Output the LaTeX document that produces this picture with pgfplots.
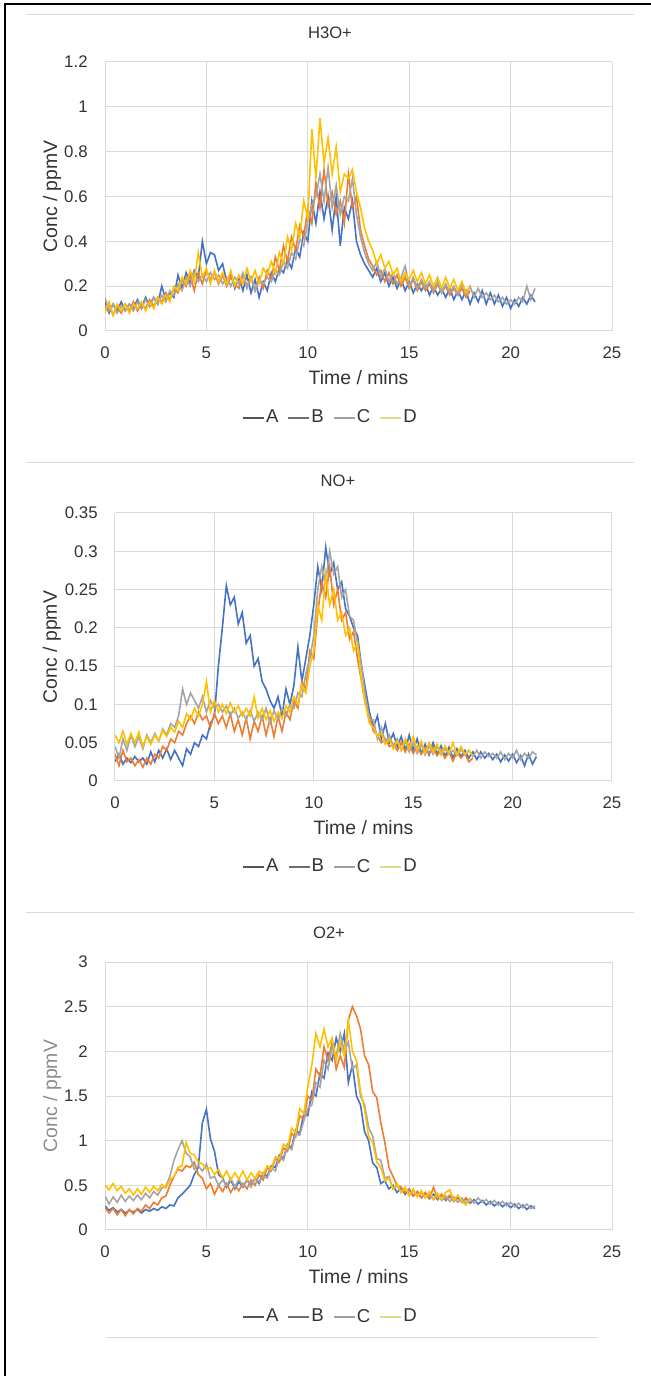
\documentclass[border=0pt]{standalone}
\usepackage{fontspec}
\setmainfont{Liberation Sans}
\usepackage{pgfplots}
\usepackage{pgfplotstable}
\pgfplotsset{compat=1.18}

\definecolor{serA}{HTML}{4472C4}
\definecolor{serB}{HTML}{ED7D31}
\definecolor{serC}{HTML}{A5A5A5}
\definecolor{serD}{HTML}{FFC000}
\definecolor{legA}{HTML}{555555}
\definecolor{legB}{HTML}{6E6E6E}
\definecolor{legC}{HTML}{A0A0A0}
\definecolor{legD}{HTML}{DCDC8C}
\definecolor{gridc}{HTML}{D9D9D9}
\definecolor{txt}{HTML}{333333}

% H3O+
\pgfplotstableread{
t A B C D
0.0 0.13 0.10 0.15 0.08
0.2 0.08 0.12 0.09 0.13
0.4 0.12 0.07 0.12 0.07
0.6 0.09 0.11 0.08 0.12
0.8 0.13 0.08 0.11 0.09
1.0 0.09 0.12 0.09 0.12
1.2 0.12 0.09 0.12 0.08
1.4 0.10 0.13 0.09 0.12
1.6 0.14 0.09 0.13 0.10
1.8 0.10 0.12 0.10 0.13
2.0 0.15 0.10 0.14 0.09
2.2 0.11 0.14 0.11 0.13
2.4 0.15 0.11 0.15 0.10
2.6 0.12 0.15 0.12 0.15
2.8 0.20 0.13 0.16 0.12
3.0 0.14 0.17 0.13 0.16
3.2 0.17 0.14 0.18 0.13
3.4 0.15 0.19 0.16 0.20
3.6 0.25 0.17 0.21 0.18
3.8 0.19 0.23 0.18 0.24
4.0 0.26 0.20 0.24 0.21
4.2 0.21 0.25 0.20 0.27
4.4 0.27 0.18 0.26 0.22
4.6 0.24 0.26 0.22 0.35
4.8 0.40 0.21 0.25 0.24
5.0 0.30 0.27 0.22 0.28
5.2 0.35 0.23 0.26 0.21
5.4 0.34 0.26 0.23 0.27
5.6 0.27 0.21 0.25 0.22
5.8 0.30 0.25 0.21 0.26
6.0 0.22 0.20 0.24 0.21
6.2 0.26 0.24 0.20 0.27
6.4 0.19 0.21 0.24 0.20
6.6 0.24 0.19 0.21 0.25
6.8 0.18 0.25 0.26 0.21
7.0 0.25 0.20 0.19 0.28
7.2 0.17 0.24 0.24 0.22
7.4 0.23 0.18 0.18 0.27
7.6 0.15 0.24 0.23 0.21
7.8 0.22 0.19 0.21 0.28
8.0 0.18 0.27 0.24 0.25
8.2 0.26 0.23 0.22 0.31
8.4 0.22 0.33 0.27 0.26
8.6 0.28 0.27 0.25 0.35
8.8 0.26 0.38 0.31 0.30
9.0 0.32 0.31 0.28 0.42
9.2 0.28 0.42 0.35 0.36
9.4 0.37 0.36 0.32 0.48
9.6 0.33 0.47 0.41 0.42
9.8 0.44 0.42 0.38 0.58
10.0 0.40 0.55 0.49 0.50
10.2 0.58 0.48 0.56 0.90
10.4 0.48 0.66 0.60 0.68
10.6 0.62 0.55 0.70 0.95
10.8 0.50 0.72 0.58 0.75
11.0 0.60 0.56 0.73 0.86
11.2 0.45 0.62 0.55 0.70
11.4 0.60 0.52 0.65 0.82
11.6 0.38 0.58 0.52 0.62
11.8 0.55 0.48 0.60 0.70
12.0 0.50 0.70 0.58 0.68
12.2 0.58 0.55 0.68 0.72
12.4 0.40 0.60 0.52 0.62
12.6 0.34 0.45 0.42 0.55
12.8 0.30 0.38 0.35 0.46
13.0 0.27 0.32 0.30 0.40
13.2 0.24 0.29 0.27 0.36
13.4 0.28 0.25 0.31 0.30
13.6 0.22 0.27 0.24 0.34
13.8 0.26 0.22 0.28 0.28
14.0 0.20 0.26 0.22 0.31
14.2 0.24 0.21 0.26 0.25
14.4 0.19 0.25 0.21 0.28
14.6 0.23 0.20 0.24 0.22
14.8 0.18 0.24 0.29 0.26
15.0 0.22 0.19 0.20 0.23
15.2 0.17 0.23 0.24 0.27
15.4 0.21 0.18 0.19 0.22
15.6 0.18 0.22 0.23 0.26
15.8 0.21 0.18 0.19 0.21
16.0 0.16 0.21 0.22 0.25
16.2 0.20 0.17 0.18 0.20
16.4 0.16 0.21 0.22 0.24
16.6 0.19 0.17 0.17 0.19
16.8 0.15 0.20 0.21 0.24
17.0 0.19 0.16 0.17 0.19
17.2 0.14 0.19 0.20 0.23
17.4 0.18 0.16 0.16 0.18
17.6 0.14 0.19 0.21 0.22
17.8 0.18 0.15 0.16 0.17
18.0 0.12 0.18 0.20 0.20
18.2 0.17 nan 0.15 nan
18.4 0.13 nan 0.19 nan
18.6 0.18 nan 0.15 nan
18.8 0.12 nan 0.17 nan
19.0 0.17 nan 0.14 nan
19.2 0.12 nan 0.16 nan
19.4 0.16 nan 0.13 nan
19.6 0.11 nan 0.15 nan
19.8 0.15 nan 0.12 nan
20.0 0.10 nan 0.14 nan
20.2 0.14 nan 0.12 nan
20.4 0.11 nan 0.15 nan
20.6 0.15 nan 0.13 nan
20.8 0.12 nan 0.20 nan
21.0 0.16 nan 0.14 nan
21.2 0.13 nan 0.19 nan
}\tabH

% NO+
\pgfplotstableread{
t A B C D
0.0 0.025 0.035 0.045 0.060
0.2 0.035 0.020 0.030 0.050
0.4 0.022 0.040 0.055 0.065
0.6 0.030 0.025 0.040 0.048
0.8 0.024 0.030 0.060 0.062
1.0 0.032 0.020 0.045 0.050
1.2 0.025 0.028 0.058 0.064
1.4 0.030 0.018 0.042 0.045
1.6 0.022 0.030 0.060 0.058
1.8 0.038 0.022 0.050 0.048
2.0 0.025 0.035 0.062 0.060
2.2 0.040 0.030 0.052 0.052
2.4 0.030 0.045 0.068 0.066
2.6 0.042 0.040 0.060 0.058
2.8 0.028 0.055 0.075 0.070
3.0 0.040 0.050 0.070 0.064
3.2 0.030 0.065 0.085 0.078
3.4 0.020 0.060 0.120 0.070
3.6 0.042 0.075 0.100 0.088
3.8 0.035 0.085 0.115 0.080
4.0 0.050 0.075 0.105 0.095
4.2 0.045 0.090 0.095 0.085
4.4 0.060 0.080 0.110 0.100
4.6 0.055 0.085 0.090 0.130
4.8 0.075 0.070 0.105 0.090
5.0 0.085 0.088 0.095 0.105
5.2 0.150 0.075 0.100 0.090
5.4 0.200 0.085 0.090 0.100
5.6 0.255 0.070 0.098 0.088
5.8 0.230 0.088 0.085 0.102
6.0 0.240 0.065 0.095 0.090
6.2 0.205 0.080 0.082 0.098
6.4 0.220 0.060 0.090 0.085
6.6 0.180 0.082 0.080 0.095
6.8 0.190 0.055 0.092 0.085
7.0 0.150 0.078 0.078 0.110
7.2 0.160 0.065 0.090 0.082
7.4 0.130 0.085 0.080 0.095
7.6 0.120 0.060 0.095 0.080
7.8 0.105 0.082 0.075 0.092
8.0 0.095 0.058 0.092 0.078
8.2 0.110 0.085 0.080 0.090
8.4 0.085 0.065 0.095 0.082
8.6 0.120 0.090 0.085 0.098
8.8 0.100 0.080 0.100 0.090
9.0 0.125 0.105 0.095 0.110
9.2 0.175 0.095 0.115 0.100
9.4 0.130 0.130 0.110 0.125
9.6 0.160 0.120 0.140 0.115
9.8 0.190 0.170 0.160 0.150
10.0 0.230 0.160 0.190 0.170
10.2 0.280 0.220 0.250 0.230
10.4 0.250 0.260 0.280 0.210
10.6 0.305 0.240 0.260 0.270
10.8 0.270 0.280 0.300 0.230
11.0 0.285 0.230 0.270 0.250
11.2 0.250 0.250 0.280 0.210
11.4 0.260 0.210 0.240 0.220
11.6 0.225 0.220 0.250 0.190
11.8 0.215 0.185 0.215 0.200
12.0 0.200 0.195 0.210 0.170
12.2 0.190 0.160 0.180 0.180
12.4 0.150 0.130 0.150 0.130
12.6 0.120 0.100 0.110 0.100
12.8 0.090 0.085 0.080 0.075
13.0 0.070 0.065 0.080 0.070
13.2 0.085 0.060 0.055 0.058
13.4 0.055 0.050 0.070 0.062
13.6 0.075 0.055 0.050 0.048
13.8 0.050 0.045 0.060 0.055
14.0 0.062 0.048 0.045 0.042
14.2 0.045 0.040 0.055 0.052
14.4 0.058 0.050 0.040 0.040
14.6 0.040 0.038 0.052 0.055
14.8 0.060 0.048 0.038 0.042
15.0 0.040 0.036 0.050 0.058
15.2 0.055 0.045 0.036 0.040
15.4 0.036 0.035 0.048 0.052
15.6 0.048 0.042 0.034 0.036
15.8 0.034 0.036 0.046 0.050
16.0 0.050 0.044 0.035 0.038
16.2 0.035 0.033 0.045 0.048
16.4 0.046 0.040 0.034 0.035
16.6 0.032 0.030 0.042 0.046
16.8 0.044 0.038 0.035 0.036
17.0 0.030 0.026 0.040 0.050
17.2 0.042 0.038 0.033 0.034
17.4 0.032 0.030 0.041 0.045
17.6 0.040 0.036 0.034 0.035
17.8 0.030 0.025 0.040 0.040
18.0 0.038 0.030 0.032 0.033
18.2 0.028 nan 0.040 nan
18.4 0.038 nan 0.030 nan
18.6 0.030 nan 0.038 nan
18.8 0.036 nan 0.032 nan
19.0 0.028 nan 0.036 nan
19.2 0.035 nan 0.030 nan
19.4 0.025 nan 0.038 nan
19.6 0.034 nan 0.028 nan
19.8 0.026 nan 0.036 nan
20.0 0.035 nan 0.030 nan
20.2 0.024 nan 0.040 nan
20.4 0.033 nan 0.028 nan
20.6 0.020 nan 0.036 nan
20.8 0.035 nan 0.030 nan
21.0 0.022 nan 0.038 nan
21.2 0.032 nan 0.034 nan
}\tabN

% O2+
\pgfplotstableread{
t A B C D
0.0 0.27 0.25 0.38 0.50
0.2 0.22 0.19 0.29 0.45
0.4 0.25 0.24 0.37 0.52
0.6 0.20 0.17 0.31 0.44
0.8 0.23 0.23 0.39 0.49
1.0 0.19 0.16 0.32 0.41
1.2 0.22 0.23 0.38 0.46
1.4 0.20 0.18 0.33 0.39
1.6 0.23 0.24 0.39 0.46
1.8 0.19 0.21 0.34 0.40
2.0 0.23 0.28 0.41 0.48
2.2 0.21 0.24 0.36 0.42
2.4 0.24 0.31 0.43 0.49
2.6 0.22 0.28 0.39 0.44
2.8 0.26 0.36 0.47 0.51
3.0 0.24 0.38 0.49 0.47
3.2 0.28 0.50 0.60 0.56
3.4 0.27 0.60 0.78 0.60
3.6 0.36 0.68 0.90 0.70
3.8 0.40 0.66 1.00 0.72
4.0 0.45 0.72 0.86 0.98
4.2 0.50 0.70 0.82 0.86
4.4 0.62 0.76 0.68 0.84
4.6 0.70 0.62 0.72 0.76
4.8 1.20 0.58 0.66 0.74
5.0 1.35 0.46 0.74 0.68
5.2 1.02 0.52 0.58 0.70
5.4 0.88 0.40 0.60 0.62
5.6 0.62 0.50 0.50 0.68
5.8 0.58 0.43 0.56 0.58
6.0 0.48 0.52 0.50 0.66
6.2 0.56 0.42 0.58 0.56
6.4 0.46 0.50 0.48 0.64
6.6 0.54 0.44 0.57 0.57
6.8 0.48 0.52 0.49 0.66
7.0 0.56 0.46 0.56 0.56
7.2 0.50 0.56 0.48 0.64
7.4 0.58 0.50 0.58 0.58
7.6 0.52 0.62 0.54 0.66
7.8 0.64 0.56 0.60 0.62
8.0 0.60 0.70 0.58 0.72
8.2 0.72 0.66 0.70 0.68
8.4 0.70 0.80 0.66 0.82
8.6 0.84 0.76 0.82 0.80
8.8 0.80 0.92 0.78 0.96
9.0 0.96 0.88 0.94 0.92
9.2 0.92 1.08 0.90 1.14
9.4 1.12 1.04 1.08 1.08
9.6 1.08 1.28 1.06 1.36
9.8 1.30 1.24 1.22 1.30
10.0 1.28 1.50 1.36 1.60
10.2 1.55 1.45 1.40 1.85
10.4 1.50 1.80 1.65 2.20
10.6 1.75 1.72 1.60 2.05
10.8 1.70 2.05 1.90 2.25
11.0 1.98 1.90 1.80 2.05
11.2 1.90 2.10 2.05 2.15
11.4 2.15 1.80 1.95 1.90
11.6 2.00 1.95 2.20 2.10
11.8 2.20 1.82 2.00 1.95
12.0 1.65 2.35 2.10 2.35
12.2 1.85 2.50 1.80 2.00
12.4 1.50 2.40 1.85 1.90
12.6 1.40 2.25 1.50 1.55
12.8 1.10 1.95 1.40 1.35
13.0 1.00 1.85 1.15 1.05
13.2 0.75 1.55 1.05 0.98
13.4 0.70 1.48 0.80 0.76
13.6 0.52 1.20 0.78 0.70
13.8 0.55 0.98 0.58 0.55
14.0 0.46 0.70 0.60 0.58
14.2 0.50 0.60 0.46 0.46
14.4 0.42 0.50 0.50 0.52
14.6 0.47 0.48 0.42 0.42
14.8 0.40 0.42 0.47 0.48
15.0 0.46 0.45 0.40 0.38
15.2 0.38 0.38 0.44 0.46
15.4 0.43 0.43 0.38 0.37
15.6 0.36 0.36 0.42 0.44
15.8 0.41 0.42 0.36 0.36
16.0 0.35 0.35 0.40 0.43
16.2 0.40 0.48 0.34 0.35
16.4 0.34 0.34 0.39 0.41
16.6 0.39 0.40 0.33 0.34
16.8 0.33 0.34 0.38 0.42
17.0 0.38 0.39 0.32 0.45
17.2 0.32 0.32 0.37 0.33
17.4 0.36 0.38 0.31 0.39
17.6 0.31 0.31 0.36 0.32
17.8 0.35 0.36 0.30 0.28
18.0 0.30 0.31 0.35 0.36
18.2 0.34 nan 0.30 nan
18.4 0.29 nan 0.36 nan
18.6 0.33 nan 0.31 nan
18.8 0.28 nan 0.34 nan
19.0 0.32 nan 0.29 nan
19.2 0.27 nan 0.33 nan
19.4 0.31 nan 0.28 nan
19.6 0.26 nan 0.32 nan
19.8 0.30 nan 0.27 nan
20.0 0.25 nan 0.31 nan
20.2 0.29 nan 0.26 nan
20.4 0.24 nan 0.30 nan
20.6 0.28 nan 0.25 nan
20.8 0.23 nan 0.29 nan
21.0 0.27 nan 0.24 nan
21.2 0.24 nan 0.27 nan
}\tabO

\pgfplotsset{
  panel/.style={
    scale only axis,
    xmin=0, xmax=25, xtick={0,5,10,15,20,25},
    ymin=0,
    grid=major,
    grid style={gridc, line width=0.5pt},
    axis line style={draw=none},
    major tick length=0pt,
    /pgf/number format/assume math mode=true,
    scaled y ticks=false,
    tick label style={font=\fontsize{8.4}{10}\selectfont, text=txt},
    xticklabel style={anchor=center, yshift=-11pt},
    yticklabel style={anchor=east, inner sep=0pt, xshift=-8.5pt,
      /pgf/number format/fixed, /pgf/number format/precision=2},
    xlabel={Time / mins}, ylabel={Conc / ppmV},
    label style={font=\fontsize{9.7}{11}\selectfont, text=txt},
    xlabel style={at={(axis description cs:0.5,-0.175)}, anchor=center},
    legend columns=4,
    legend style={draw=none, fill=none, anchor=center,
      font=\fontsize{9.3}{11}\selectfont, text=txt,
      nodes={inner xsep=0.6pt},
      /tikz/every even column/.append style={column sep=4pt}},
    legend image code/.code={\draw[#1] (0pt,0pt) -- (10.5pt,0pt);},
    every axis plot/.append style={line width=0.8pt, mark=none},
  },
}

\begin{document}
\begin{tikzpicture}
\useasboundingbox (0,0) rectangle (325.5pt,688pt);
% outer frame and chart areas
\draw[black, line width=1pt] (2.5pt,0pt) -- (2.5pt,686pt) -- (325.5pt,686pt);
\draw[gridc, line width=0.5pt] (12.8pt,680.5pt) -- (317pt,680.5pt);
\draw[gridc, line width=0.5pt] (12.8pt,456.5pt) -- (317pt,456.5pt);
\draw[gridc, line width=0.5pt] (12.8pt,231.5pt) -- (317pt,231.5pt);
\draw[gridc, line width=0.5pt] (53pt,19pt) -- (299pt,19pt);
% titles
\node[font=\fontsize{8.3}{10}\selectfont, text=txt] at (165pt,671.5pt) {H3O+};
\node[font=\fontsize{8.3}{10}\selectfont, text=txt] at (169pt,447.5pt) {NO+};
\node[font=\fontsize{8.3}{10}\selectfont, text=txt] at (164.5pt,221.5pt) {O2+};

\begin{axis}[panel, at={(52.5pt,522.5pt)}, anchor=south west,
  width=253.5pt, height=134.5pt,
  ymax=1.2, ytick={0,0.2,0.4,0.6,0.8,1,1.2},
  ylabel style={at={(axis description cs:-0.1045,0.5)}, anchor=center},
  legend style={at={(axis description cs:0.444,-0.323)}}]
\addplot[serA, forget plot] table[x=t, y=A] {\tabH};
\addplot[serB, forget plot] table[x=t, y=B] {\tabH};
\addplot[serC, forget plot] table[x=t, y=C] {\tabH};
\addplot[serD, forget plot] table[x=t, y=D] {\tabH};
\addlegendimage{legA, line width=0.8pt}\addlegendentry{A}
\addlegendimage{legB, line width=0.8pt}\addlegendentry{B}
\addlegendimage{legC, line width=0.8pt}\addlegendentry{C}
\addlegendimage{legD, line width=0.8pt}\addlegendentry{D}
\end{axis}

\begin{axis}[panel, at={(57.5pt,297.5pt)}, anchor=south west,
  width=248.5pt, height=134pt,
  ymax=0.35, ytick={0,0.05,0.1,0.15,0.2,0.25,0.3,0.35},
  ylabel style={at={(axis description cs:-0.1268,0.5)}, anchor=center},
  legend style={at={(axis description cs:0.433,-0.321)}}]
\addplot[serA, forget plot] table[x=t, y=A] {\tabN};
\addplot[serB, forget plot] table[x=t, y=B] {\tabN};
\addplot[serC, forget plot] table[x=t, y=C] {\tabN};
\addplot[serD, forget plot] table[x=t, y=D] {\tabN};
\addlegendimage{legA, line width=0.8pt}\addlegendentry{A}
\addlegendimage{legB, line width=0.8pt}\addlegendentry{B}
\addlegendimage{legC, line width=0.8pt}\addlegendentry{C}
\addlegendimage{legD, line width=0.8pt}\addlegendentry{D}
\end{axis}

\begin{axis}[panel, at={(52.5pt,73pt)}, anchor=south west,
  width=253.5pt, height=134pt,
  ymax=3, ytick={0,0.5,1,1.5,2,2.5,3},
  ylabel style={at={(axis description cs:-0.1045,0.5)}, anchor=center, text=black!45},
  legend style={at={(axis description cs:0.444,-0.325)}}]
\addplot[serA, forget plot] table[x=t, y=A] {\tabO};
\addplot[serB, forget plot] table[x=t, y=B] {\tabO};
\addplot[serC, forget plot] table[x=t, y=C] {\tabO};
\addplot[serD, forget plot] table[x=t, y=D] {\tabO};
\addlegendimage{legA, line width=0.8pt}\addlegendentry{A}
\addlegendimage{legB, line width=0.8pt}\addlegendentry{B}
\addlegendimage{legC, line width=0.8pt}\addlegendentry{C}
\addlegendimage{legD, line width=0.8pt}\addlegendentry{D}
\end{axis}
\end{tikzpicture}
\end{document}
